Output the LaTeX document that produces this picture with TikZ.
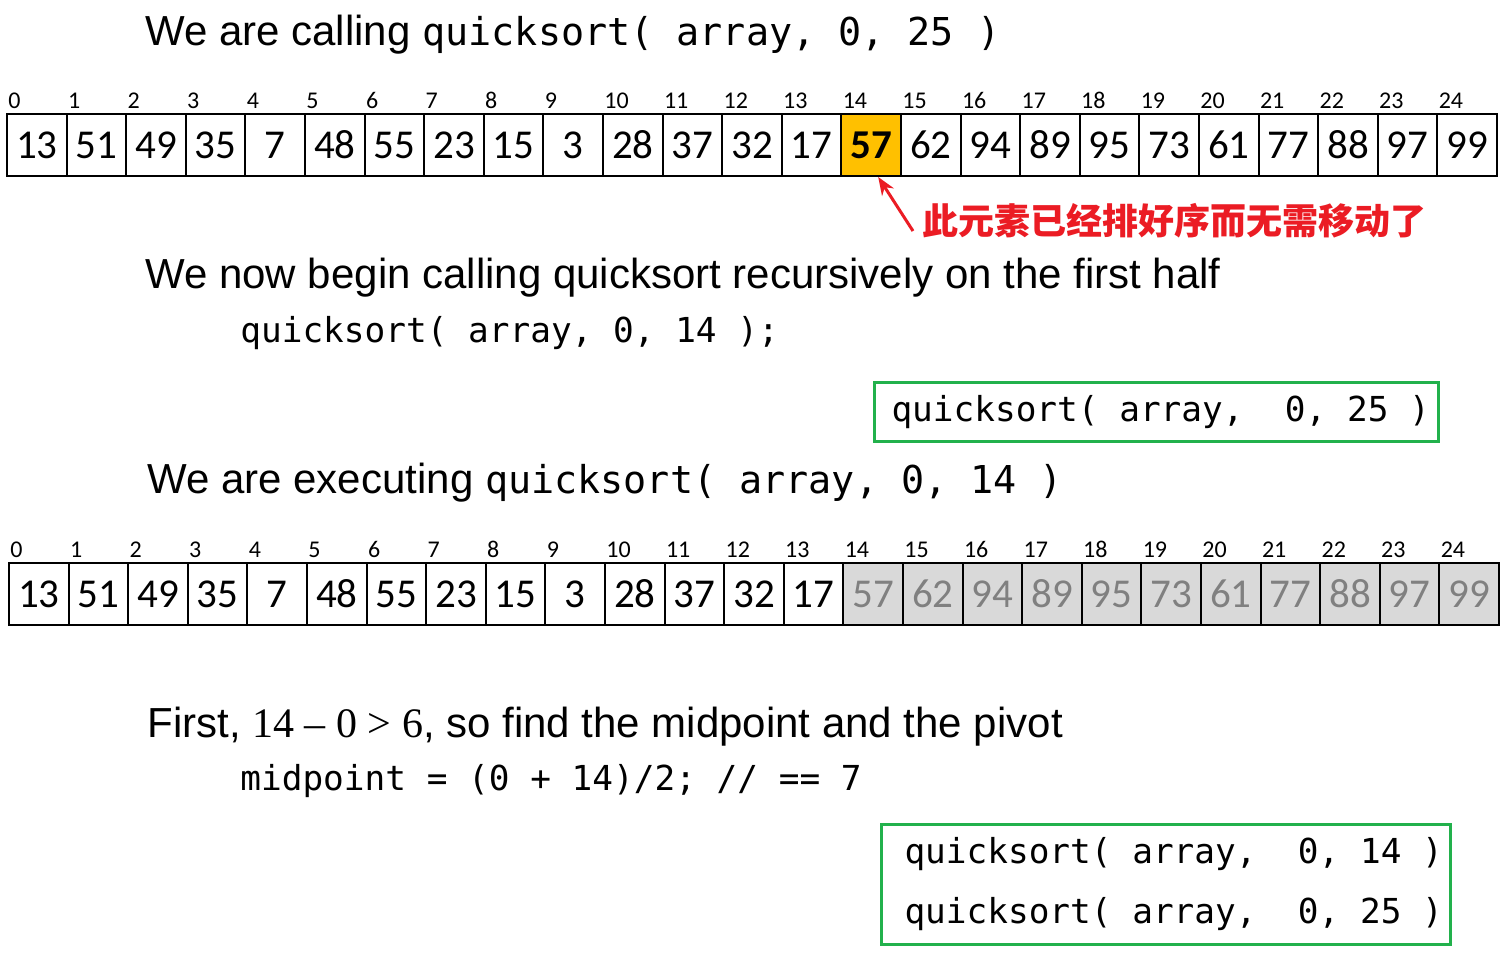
\documentclass[tikz,border=0pt]{standalone}
\usepackage{fontspec}
\setmainfont{Liberation Sans}
\newfontfamily\cellfont{Carlito}
\newfontfamily\codefont{DejaVu Sans Mono}
\newfontfamily\seriffont{Liberation Serif}
\newfontfamily\cjkfont{Noto Sans CJK SC}
\usetikzlibrary{arrows.meta}
\definecolor{pivotyellow}{RGB}{255,192,0}
\definecolor{graycell}{RGB}{217,217,217}
\definecolor{graytext}{RGB}{128,128,128}
\definecolor{boxgreen}{RGB}{34,177,76}
\definecolor{notered}{RGB}{235,28,36}
\tikzset{
  cell/.style={draw=black, line width=1pt, minimum width=29.8pt, minimum height=31pt,
    inner sep=0pt, font=\cellfont\fontsize{20.5}{24}\selectfont},
  pivot/.style={cell, fill=pivotyellow, font=\cellfont\bfseries\fontsize{20.5}{24}\selectfont},
  done/.style={cell, fill=graycell, text=graytext},
  idx/.style={anchor=base west, inner sep=0pt, font=\cellfont\fontsize{12}{14}\selectfont},
  txt/.style={anchor=base west, inner sep=0pt, font=\fontsize{21}{25}\selectfont},
  code/.style={anchor=base west, inner sep=0pt, font=\codefont\fontsize{17.2}{30}\selectfont},
  stackbox/.style={draw=boxgreen, line width=1.5pt},
  notearrow/.style={draw=notered, line width=1.5pt, -{Stealth[length=9pt,width=7pt]}},
}
\frenchspacing
\begin{document}
\begin{tikzpicture}[x=0.5pt,y=-0.5pt]
\useasboundingbox (0,0) rectangle (1504,970);

% title 1
\node[txt] (title1) at (145,45) {We are calling {\codefont\fontsize{19.2}{23}\selectfont quicksort( array, 0, 25 )}};

% array 1
\foreach \v/\s [count=\i from 0] in {13/cell,51/cell,49/cell,35/cell,7/cell,48/cell,55/cell,23/cell,15/cell,3/cell,28/cell,37/cell,32/cell,17/cell,57/pivot,62/cell,94/cell,89/cell,95/cell,73/cell,61/cell,77/cell,88/cell,97/cell,99/cell}{
  \node[\s] (a\i) at ({36.8+59.6*\i},145) {\v};
  \node[idx] (ia\i) at ({8+59.6*\i},108) {\i};
}

% note
\node[anchor=base west, inner sep=0pt, text=notered, font=\cjkfont\bfseries\fontsize{18}{20}\selectfont] (note) at (922,234) {此元素已经排好序而无需移动了};
\coordinate (tail) at (913,231);
\draw[notearrow] (tail) -- ([xshift=3.5pt]a14.south);

% title 2
\node[txt] (title2) at (145,288) {We now begin calling quicksort recursively on the first half};
\node[code] (call1) at (240,342) {quicksort( array, 0, 14 );};

% stack box 1
\node[code, stackbox, anchor=north west, inner xsep=8.5pt, inner ysep=0pt,
  minimum height=29.5pt] (stack1) at (873,381) {\makebox[265pt][l]{quicksort( array,~~0, 25 )}};

% title 3
\node[txt] (title3) at (147,493) {We are executing {\codefont\fontsize{19.2}{23}\selectfont quicksort( array, 0, 14 )}};

% array 2
\foreach \v/\s [count=\i from 0] in {13/cell,51/cell,49/cell,35/cell,7/cell,48/cell,55/cell,23/cell,15/cell,3/cell,28/cell,37/cell,32/cell,17/cell,57/done,62/done,94/done,89/done,95/done,73/done,61/done,77/done,88/done,97/done,99/done}{
  \node[\s] (b\i) at ({38.8+59.6*\i},594) {\v};
  \node[idx] (ib\i) at ({10+59.6*\i},557) {\i};
}

% first line
\node[txt] (first) at (147,737) {First, {\seriffont 14 – 0 > 6}, so find the midpoint and the pivot};
\node[code] (mid) at (240,790) {midpoint = (0 + 14)/2; // == 7};

% stack box 2
\node[code, stackbox, anchor=north west, inner xsep=11.5pt, inner ysep=0pt,
  minimum height=60pt, align=left] (stack2) at (880,823) {\makebox[261.5pt][l]{quicksort( array,~~0, 14 )}\\\makebox[261.5pt][l]{quicksort( array,~~0, 25 )}};
\end{tikzpicture}
\end{document}
